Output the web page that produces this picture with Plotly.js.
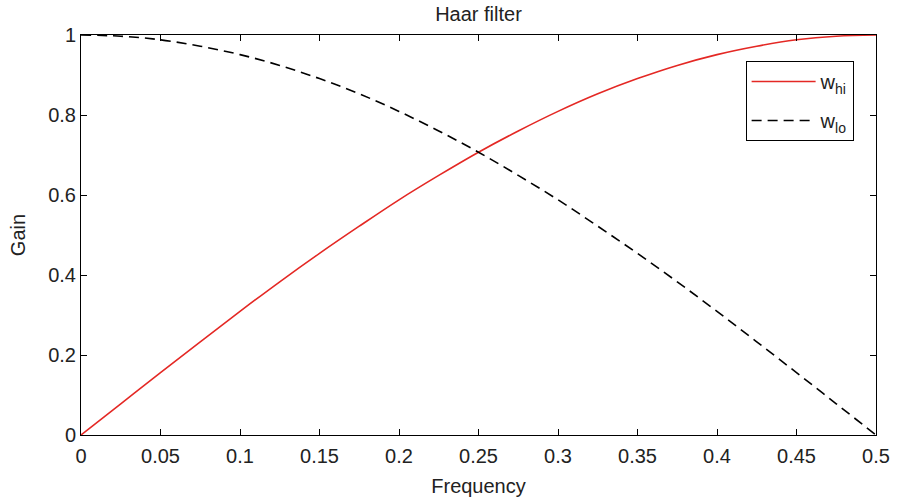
<!DOCTYPE html>
<html>
<head>
<meta charset="utf-8">
<script src="https://cdn.plot.ly/plotly-3.0.1.min.js"></script>
<style>html,body{margin:0;padding:0;background:#fff;}#chart{width:897px;height:503px;}</style>
</head>
<body>
<div id="chart"></div>
<script>
// Frequency samples and gains
const freq = [0, 0.025, 0.05, 0.075, 0.1, 0.125, 0.15, 0.175, 0.2, 0.225, 0.25,
              0.275, 0.3, 0.325, 0.35, 0.375, 0.4, 0.425, 0.45, 0.475, 0.5];
const wHi = [0, 0.078, 0.156, 0.233, 0.309, 0.383, 0.454, 0.522, 0.588, 0.649, 0.707,
             0.760, 0.809, 0.853, 0.891, 0.924, 0.951, 0.972, 0.988, 0.997, 1.0];
const wLo = [1.0, 0.997, 0.988, 0.972, 0.951, 0.924, 0.891, 0.853, 0.809, 0.760, 0.707,
             0.649, 0.588, 0.522, 0.454, 0.383, 0.309, 0.233, 0.156, 0.078, 0];
const xTicks = [0, 0.05, 0.1, 0.15, 0.2, 0.25, 0.3, 0.35, 0.4, 0.45, 0.5];
const xTickLabels = ['0', '0.05', '0.1', '0.15', '0.2', '0.25', '0.3', '0.35', '0.4', '0.45', '0.5'];
const yTicks = [0, 0.2, 0.4, 0.6, 0.8, 1];
const yTickLabels = ['0', '0.2', '0.4', '0.6', '0.8', '1'];

const FONT = 'Liberation Sans, Arial, Helvetica, sans-serif';
const FS = 20;
const TXT = '#222';

const traces = [
  {x: freq, y: wHi, name: 'w<sub>hi</sub>', mode: 'lines', legendgroup: 'a',
   line: {color: 'rgb(228,40,36)', width: 1.6, shape: 'spline'}},
  {x: freq, y: wLo, name: 'w<sub>lo</sub>', mode: 'lines', legendgroup: 'b',
   line: {color: 'black', width: 1.6, dash: '10px,6px', shape: 'spline'}}
];

const axisCommon = {
  showline: true, linecolor: 'black', linewidth: 1, mirror: 'ticks',
  ticks: 'inside', ticklen: 6, tickcolor: 'black', showgrid: false, zeroline: false,
  tickfont: {family: FONT, size: FS, color: TXT}
};

const layout = {
  width: 897, height: 503,
  margin: {l: 81, r: 21, t: 35, b: 68},
  paper_bgcolor: 'white', plot_bgcolor: 'white',
  font: {family: FONT, size: FS, color: TXT},
  title: {text: 'Haar filter', x: 0.5, xref: 'paper', xanchor: 'center',
          y: 1 - 14 / 503, yref: 'container', yanchor: 'middle',
          font: {family: FONT, size: FS, color: TXT}},
  xaxis: Object.assign({}, axisCommon, {
    range: [0, 0.5], tickvals: xTicks, ticktext: xTickLabels, ticklabelstandoff: 3,
    title: {text: 'Frequency', standoff: 12, font: {family: FONT, size: FS, color: TXT}}
  }),
  yaxis: Object.assign({}, axisCommon, {
    range: [0, 1], tickvals: yTicks, ticktext: yTickLabels,
    title: {text: 'Gain', standoff: 17, font: {family: FONT, size: FS, color: TXT}}
  }),
  showlegend: true,
  legend: {x: 0.836, y: 0.935, xanchor: 'left', yanchor: 'top',
           bordercolor: 'black', borderwidth: 1, bgcolor: 'white',
           traceorder: 'grouped', tracegroupgap: 10, itemwidth: 64,
           entrywidth: 112, entrywidthmode: 'pixels',
           font: {family: FONT, size: FS, color: TXT}}
};

Plotly.newPlot('chart', traces, layout, {displayModeBar: false, staticPlot: true});
</script>
</body>
</html>
